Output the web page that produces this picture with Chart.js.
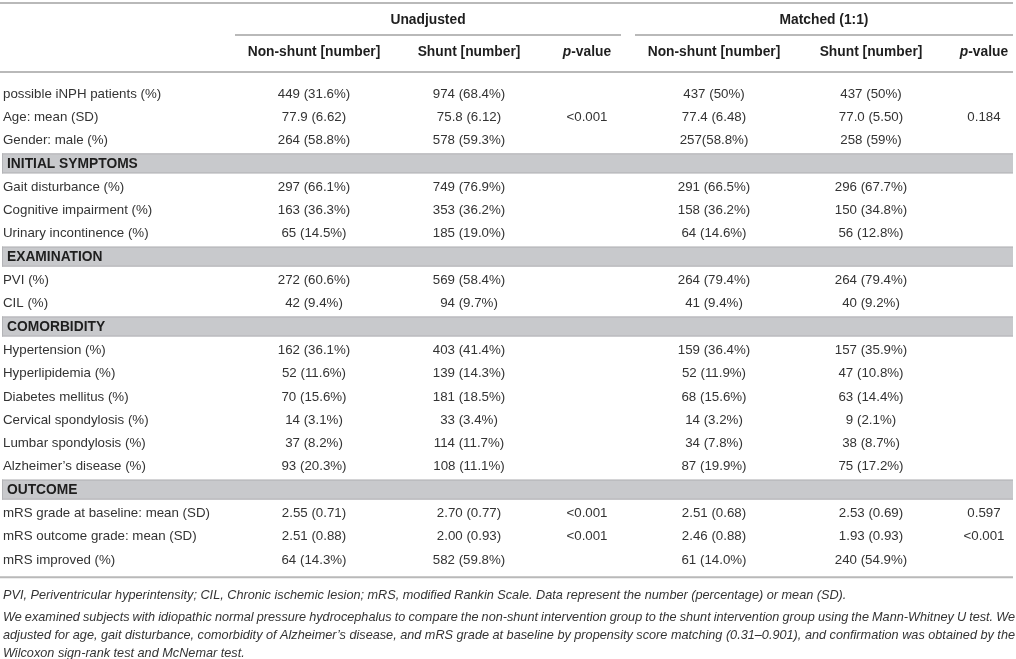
<!DOCTYPE html>
<html><head><meta charset="utf-8">
<script src="https://cdn.jsdelivr.net/npm/chart.js@4.4.1/dist/chart.umd.min.js"></script>
<style>html,body{margin:0;padding:0;background:#fff}#wrap{width:1016px;height:659px;position:relative}</style>
</head><body><div id="wrap"><canvas id="c"></canvas></div>
<script>
// ---------- data ----------
const rowLabels = [
  'possible iNPH patients (%)','Age: mean (SD)','Gender: male (%)',
  'INITIAL SYMPTOMS','Gait disturbance (%)','Cognitive impairment (%)','Urinary incontinence (%)',
  'EXAMINATION','PVI (%)','CIL (%)',
  'COMORBIDITY','Hypertension (%)','Hyperlipidemia (%)','Diabetes mellitus (%)','Cervical spondylosis (%)','Lumbar spondylosis (%)','Alzheimer\u2019s disease (%)',
  'OUTCOME','mRS grade at baseline: mean (SD)','mRS outcome grade: mean (SD)','mRS improved (%)'
];
const sectionRows = ['INITIAL SYMPTOMS','EXAMINATION','COMORBIDITY','OUTCOME'];
const groupHeaders = ['Unadjusted','Matched (1:1)'];
const columnHeaders = ['Non-shunt [number]','Shunt [number]','p-value','Non-shunt [number]','Shunt [number]','p-value'];

const unadjNonShunt = ['449 (31.6%)','77.9 (6.62)','264 (58.8%)','','297 (66.1%)','163 (36.3%)','65 (14.5%)','','272 (60.6%)','42 (9.4%)','','162 (36.1%)','52 (11.6%)','70 (15.6%)','14 (3.1%)','37 (8.2%)','93 (20.3%)','','2.55 (0.71)','2.51 (0.88)','64 (14.3%)'];
const unadjShunt = ['974 (68.4%)','75.8 (6.12)','578 (59.3%)','','749 (76.9%)','353 (36.2%)','185 (19.0%)','','569 (58.4%)','94 (9.7%)','','403 (41.4%)','139 (14.3%)','181 (18.5%)','33 (3.4%)','114 (11.7%)','108 (11.1%)','','2.70 (0.77)','2.00 (0.93)','582 (59.8%)'];
const unadjP = ['','<0.001','','','','','','','','','','','','','','','','','<0.001','<0.001',''];
const matchedNonShunt = ['437 (50%)','77.4 (6.48)','257(58.8%)','','291 (66.5%)','158 (36.2%)','64 (14.6%)','','264 (79.4%)','41 (9.4%)','','159 (36.4%)','52 (11.9%)','68 (15.6%)','14 (3.2%)','34 (7.8%)','87 (19.9%)','','2.51 (0.68)','2.46 (0.88)','61 (14.0%)'];
const matchedShunt = ['437 (50%)','77.0 (5.50)','258 (59%)','','296 (67.7%)','150 (34.8%)','56 (12.8%)','','264 (79.4%)','40 (9.2%)','','157 (35.9%)','47 (10.8%)','63 (14.4%)','9 (2.1%)','38 (8.7%)','75 (17.2%)','','2.53 (0.69)','1.93 (0.93)','240 (54.9%)'];
const matchedP = ['','0.184','','','','','','','','','','','','','','','','','0.597','<0.001',''];

const footnotes = [
  'PVI, Periventricular hyperintensity; CIL, Chronic ischemic lesion; mRS, modified Rankin Scale. Data represent the number (percentage) or mean (SD).',
  'We examined subjects with idiopathic normal pressure hydrocephalus to compare the non-shunt intervention group to the shunt intervention group using the Mann-Whitney U test. We',
  'adjusted for age, gait disturbance, comorbidity of Alzheimer\u2019s disease, and mRS grade at baseline by propensity score matching (0.31\u20130.901), and confirmation was obtained by the',
  'Wilcoxon sign-rank test and McNemar test.'
];

// ---------- layout (positions / styles) ----------
const W = 1016, H = 659;
const COL_X = [314, 469, 587, 714, 871, 984];
const LABEL_X = 3, SECTION_X = 7;
const GROUP_SPAN = [[235, 621], [635, 1013]];
const FIRST_ROW = 94, ROW_PITCH = 23.3;
const FONT = '"Liberation Sans", Arial, Helvetica, sans-serif';
const BODY_FONT = '13.3px ' + FONT;
const BOLD_FONT = 'bold 13.8px ' + FONT;
const TEXT_COLOR = '#333333';
const HEAD_COLOR = '#1e1e1e';
const RULE_COLOR = '#b9b9b9';
const BAND_COLOR = '#c8c9cc';

const columns = [unadjNonShunt, unadjShunt, unadjP, matchedNonShunt, matchedShunt, matchedP];
const chartTop = FIRST_ROW - ROW_PITCH / 2;
const chartBottom = chartTop + ROW_PITCH * rowLabels.length;

const datasets = columns.map((vals, j) => ({
  label: columnHeaders[j],
  data: rowLabels.map((r, i) => ({ x: COL_X[j], y: r, t: vals[i] })),
  pointRadius: 0, align: 'center'
}));
datasets.push({
  label: 'labels',
  data: rowLabels.map(r => ({ x: sectionRows.includes(r) ? SECTION_X : LABEL_X, y: r, t: r, section: sectionRows.includes(r) })),
  pointRadius: 0, align: 'left'
});

function hline(ctx, x1, x2, y, w, c) {
  ctx.save(); ctx.strokeStyle = c; ctx.lineWidth = w;
  ctx.beginPath(); ctx.moveTo(x1, y); ctx.lineTo(x2, y); ctx.stroke(); ctx.restore();
}

const tablePlugin = {
  id: 'table',
  beforeDatasetsDraw(chart) {
    const ctx = chart.ctx, ys = chart.scales.y;
    // section bands
    sectionRows.forEach(s => {
      const yc = ys.getPixelForValue(rowLabels.indexOf(s));
      ctx.save();
      ctx.fillStyle = BAND_COLOR;
      ctx.fillRect(2, yc - 10.5, 1011, 20);
      ctx.fillStyle = '#b3b4b7';
      ctx.fillRect(2, yc - 10.5, 1011, 1);
      ctx.fillRect(2, yc + 8.5, 1011, 1);
      ctx.fillRect(2, yc - 10.5, 1, 20);
      ctx.restore();
    });
    // rules
    hline(ctx, 0, 1013, 3, 2, RULE_COLOR);
    GROUP_SPAN.forEach(sp => hline(ctx, sp[0], sp[1], 35, 2, RULE_COLOR));
    hline(ctx, 0, 1013, 72, 2, RULE_COLOR);
    hline(ctx, 0, 1013, chartBottom + 5.5, 2, RULE_COLOR);
  },
  afterDatasetsDraw(chart) {
    const ctx = chart.ctx;
    ctx.save();
    ctx.textBaseline = 'middle';
    // group headers
    ctx.font = BOLD_FONT; ctx.fillStyle = HEAD_COLOR; ctx.textAlign = 'center';
    groupHeaders.forEach((g, k) => ctx.fillText(g, (GROUP_SPAN[k][0] + GROUP_SPAN[k][1]) / 2, 20));
    // column headers
    columnHeaders.forEach((h, j) => {
      const x = chart.scales.x.getPixelForValue(COL_X[j]);
      if (h.startsWith('p-')) {
        ctx.textAlign = 'left';
        ctx.font = 'italic bold 13.8px ' + FONT;
        const w1 = ctx.measureText('p').width;
        ctx.font = BOLD_FONT;
        const w2 = ctx.measureText(h.slice(1)).width;
        const x0 = x - (w1 + w2) / 2;
        ctx.font = 'italic bold 13.8px ' + FONT;
        ctx.fillText('p', x0, 52);
        ctx.font = BOLD_FONT;
        ctx.fillText(h.slice(1), x0 + w1, 52);
      } else {
        ctx.textAlign = 'center'; ctx.font = BOLD_FONT;
        ctx.fillText(h, x, 52);
      }
    });
    // cells
    chart.data.datasets.forEach((ds, di) => {
      const meta = chart.getDatasetMeta(di);
      meta.data.forEach((el, i) => {
        const d = ds.data[i];
        if (!d.t) return;
        ctx.textAlign = ds.align;
        if (d.section) { ctx.font = BOLD_FONT; ctx.fillStyle = HEAD_COLOR; }
        else { ctx.font = BODY_FONT; ctx.fillStyle = TEXT_COLOR; }
        ctx.fillText(d.t, el.x, el.y);
      });
    });
    // footnotes
    ctx.fillStyle = TEXT_COLOR; ctx.textAlign = 'left';
    ctx.font = 'italic 12.5px ' + FONT;
    const w0 = ctx.measureText(footnotes[0]).width;
    const fs = 12.5 * 844 / w0;
    ctx.font = 'italic ' + fs.toFixed(2) + 'px ' + FONT;
    const fy = [595, 617, 635, 653];
    footnotes.forEach((line, k) => {
      if (k === 1 || k === 2) {
        const words = line.split(' ');
        const ws = words.map(w => ctx.measureText(w).width);
        const total = ws.reduce((a, b) => a + b, 0);
        const gap = (1015 - LABEL_X - total) / (words.length - 1);
        let x = LABEL_X;
        words.forEach((w, i) => { ctx.fillText(w, x, fy[k]); x += ws[i] + gap; });
      } else {
        ctx.fillText(line, LABEL_X, fy[k]);
      }
    });
    ctx.restore();
  }
};

new Chart(document.getElementById('c'), {
  type: 'scatter',
  data: { labels: rowLabels, datasets },
  options: {
    responsive: true, maintainAspectRatio: false, animation: false, events: [],
    layout: { padding: { top: chartTop, bottom: H - chartBottom, left: 0, right: 0 } },
    plugins: { legend: { display: false }, tooltip: { enabled: false } },
    scales: {
      x: { type: 'linear', min: 0, max: W, display: false },
      y: { type: 'category', labels: rowLabels, offset: true, display: false }
    }
  },
  plugins: [tablePlugin]
});
</script>
</body></html>
